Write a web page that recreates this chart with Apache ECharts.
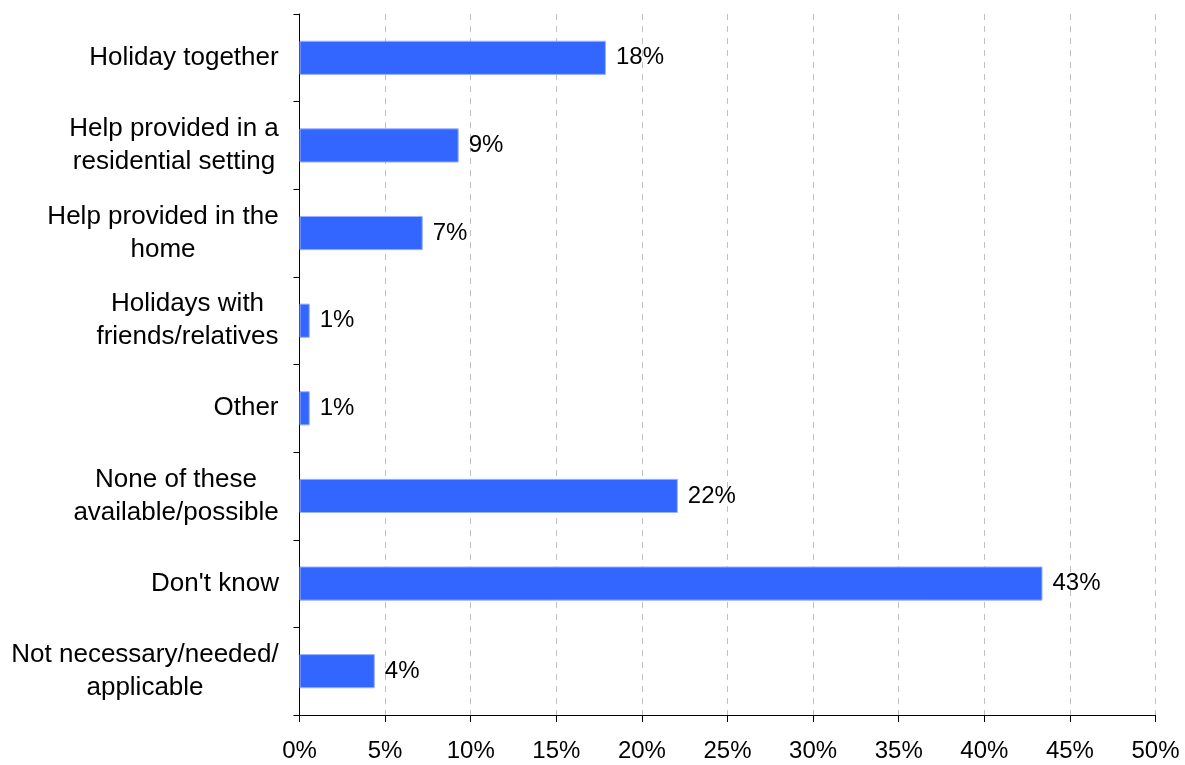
<!DOCTYPE html>
<html><head><meta charset="utf-8">
<script src="https://cdn.jsdelivr.net/npm/echarts@6/dist/echarts.min.js"></script>
<style>html,body{margin:0;padding:0;background:#fff}#c{width:1185px;height:765px}</style>
</head><body><div id="c"></div>
<script>
var categories = ["Holiday together","Help provided in a\nresidential setting","Help provided in the\nhome","Holidays with\nfriends/relatives","Other","None of these\navailable/possible","Don't know","Not necessary/needed/\napplicable"];
var values = [17.9, 9.3, 7.2, 0.6, 0.6, 22.1, 43.4, 4.4];
var xTicks = [0,5,10,15,20,25,30,35,40,45,50];
var font = 'Liberation Sans, Arial, sans-serif';
var catFontSize = 26;
var cv = document.createElement('canvas').getContext('2d');
cv.font = catFontSize + 'px ' + font;
function blockWidth(v){
  var w = 0;
  v.split('\n').forEach(function(l){ w = Math.max(w, cv.measureText(l).width); });
  return Math.ceil(w) + 1;
}
function catLabel(v){
  var w = blockWidth(v);
  return v.split('\n').map(function(l){ return '{w' + w + '|' + l + '}'; }).join('\n');
}
var rich = {};
categories.forEach(function(c){
  var w = blockWidth(c);
  rich['w' + w] = {width: w, align: 'center', fontSize: catFontSize, fontFamily: font, color: '#000', lineHeight: 33};
});
var chart = echarts.init(document.getElementById('c'));
chart.setOption({
  animation:false,
  grid:{left:299.5,right:29.5,top:14,bottom:50,containLabel:false},
  xAxis:{type:'value',min:0,max:50,interval:5,
    axisLine:{show:true,lineStyle:{color:'#000',width:1}},
    axisTick:{show:true,length:7,lineStyle:{color:'#000'}},
    axisLabel:{formatter:function(v){return v+'%';},color:'#000',fontSize:24,fontFamily:font,margin:24},
    splitLine:{show:true,lineStyle:{color:'#c0c0c0',type:[6,6],width:1}}},
  yAxis:{type:'category',data:categories,inverse:true,
    axisLine:{show:true,lineStyle:{color:'#000',width:1}},
    axisTick:{show:true,length:6,alignWithLabel:false,lineStyle:{color:'#000'}},
    axisLabel:{color:'#000',fontSize:catFontSize,fontFamily:font,margin:20,lineHeight:33,align:'right',
      formatter:catLabel,rich:rich}},
  series:[{type:'bar',data:values,barWidth:'39%',
    itemStyle:{color:'#3366FF',borderColor:'#99B3FF',borderWidth:1},
    label:{show:true,position:'right',distance:10,color:'#000',fontSize:24,fontFamily:font,
      formatter:function(p){return Math.round(p.value)+'%';}}}]
});
</script></body></html>
